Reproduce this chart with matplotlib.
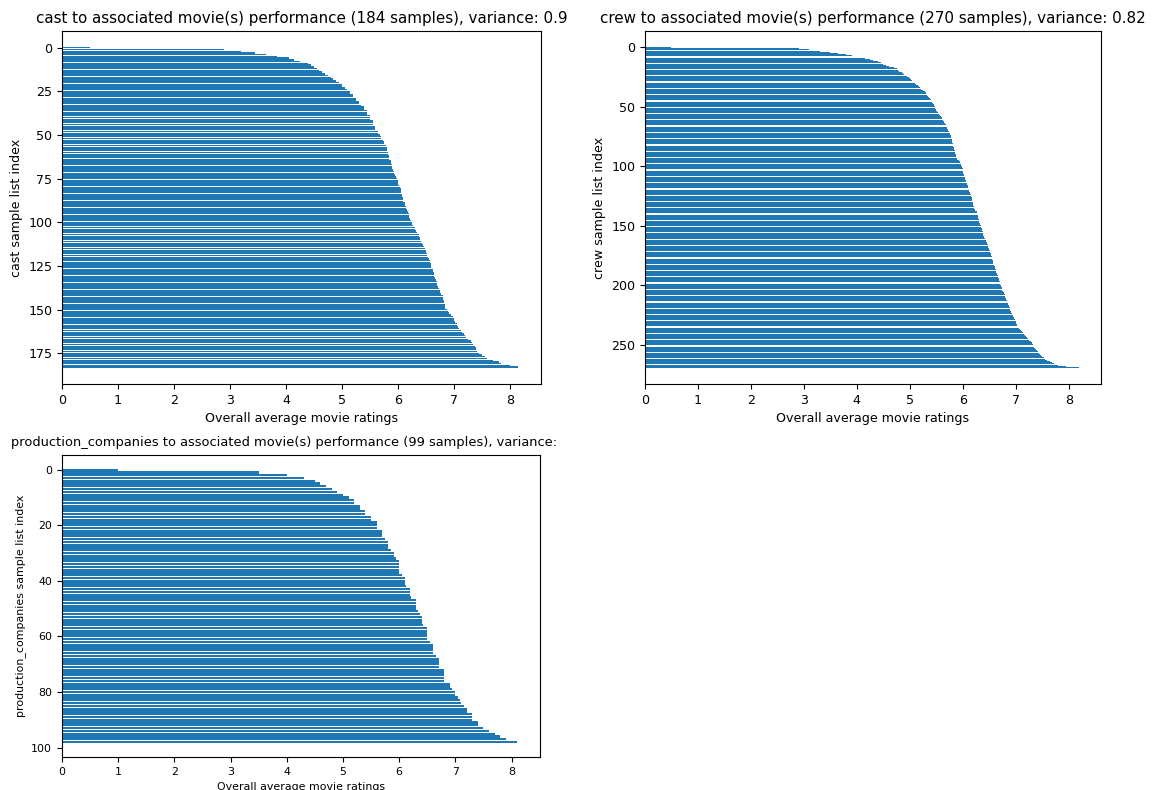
import matplotlib.pyplot as plt
import numpy as np
from matplotlib.transforms import Bbox

# average movie rating of every sample, sorted ascending
cast_ratings = [
    0.5, 2.9, 3.2, 3.45, 3.65, 3.85, 4.05, 4.15, 4.25, 4.4,
    4.45, 4.5, 4.55, 4.6, 4.65, 4.7, 4.75, 4.8, 4.85, 4.9,
    4.95, 5.0, 5.0, 5.05, 5.1, 5.15, 5.15, 5.2, 5.2, 5.25,
    5.25, 5.3, 5.3, 5.35, 5.4, 5.4, 5.45, 5.45, 5.45, 5.5,
    5.5, 5.5, 5.55, 5.55, 5.55, 5.6, 5.6, 5.6, 5.65, 5.65,
    5.68, 5.7, 5.7, 5.73, 5.75, 5.75, 5.78, 5.8, 5.8, 5.8,
    5.82, 5.82, 5.84, 5.84, 5.85, 5.87, 5.88, 5.9, 5.9, 5.9,
    5.92, 5.93, 5.94, 5.95, 5.96, 5.98, 6.0, 6.0, 6.0, 6.02,
    6.03, 6.05, 6.05, 6.06, 6.08, 6.08, 6.1, 6.1, 6.1, 6.12,
    6.13, 6.15, 6.15, 6.16, 6.18, 6.2, 6.2, 6.2, 6.22, 6.24,
    6.25, 6.26, 6.28, 6.3, 6.3, 6.32, 6.35, 6.37, 6.38, 6.4,
    6.4, 6.42, 6.44, 6.45, 6.46, 6.48, 6.5, 6.5, 6.52, 6.53,
    6.54, 6.55, 6.57, 6.58, 6.6, 6.6, 6.6, 6.62, 6.63, 6.64,
    6.64, 6.65, 6.67, 6.68, 6.7, 6.7, 6.7, 6.72, 6.74, 6.75,
    6.76, 6.78, 6.8, 6.8, 6.8, 6.82, 6.83, 6.84, 6.85, 6.85,
    6.88, 6.9, 6.92, 6.95, 6.98, 7.0, 7.0, 7.02, 7.05, 7.05,
    7.08, 7.1, 7.12, 7.15, 7.18, 7.2, 7.22, 7.25, 7.3, 7.32,
    7.35, 7.38, 7.4, 7.4, 7.42, 7.45, 7.5, 7.55, 7.6, 7.7,
    7.8, 7.85, 8.0, 8.15,
]

crew_ratings = [
    0.5, 2.9, 3.1, 3.3, 3.5, 3.65, 3.8, 3.9, 4.05, 4.15,
    4.25, 4.3, 4.4, 4.45, 4.5, 4.55, 4.6, 4.7, 4.75, 4.78,
    4.8, 4.85, 4.88, 4.9, 4.95, 4.98, 5.0, 5.02, 5.05, 5.08,
    5.1, 5.12, 5.15, 5.18, 5.2, 5.22, 5.25, 5.28, 5.3, 5.3,
    5.32, 5.35, 5.36, 5.38, 5.4, 5.4, 5.42, 5.44, 5.45, 5.46,
    5.47, 5.48, 5.5, 5.5, 5.52, 5.54, 5.55, 5.57, 5.58, 5.6,
    5.6, 5.62, 5.64, 5.65, 5.67, 5.68, 5.7, 5.7, 5.7, 5.72,
    5.73, 5.74, 5.75, 5.76, 5.77, 5.78, 5.78, 5.79, 5.8, 5.8,
    5.8, 5.81, 5.82, 5.82, 5.83, 5.83, 5.84, 5.85, 5.86, 5.86,
    5.87, 5.88, 5.88, 5.89, 5.9, 5.92, 5.94, 5.95, 5.96, 5.97,
    5.98, 5.99, 6.0, 6.0, 6.0, 6.0, 6.01, 6.02, 6.03, 6.04,
    6.05, 6.05, 6.06, 6.07, 6.08, 6.08, 6.09, 6.1, 6.1, 6.1,
    6.11, 6.12, 6.13, 6.14, 6.15, 6.16, 6.17, 6.18, 6.18, 6.18,
    6.19, 6.19, 6.2, 6.2, 6.21, 6.22, 6.23, 6.24, 6.26, 6.27,
    6.27, 6.28, 6.28, 6.29, 6.29, 6.3, 6.3, 6.31, 6.32, 6.33,
    6.34, 6.35, 6.36, 6.37, 6.37, 6.38, 6.38, 6.38, 6.39, 6.4,
    6.41, 6.42, 6.43, 6.44, 6.45, 6.46, 6.47, 6.48, 6.48, 6.5,
    6.5, 6.51, 6.52, 6.53, 6.54, 6.54, 6.55, 6.55, 6.56, 6.57,
    6.57, 6.58, 6.58, 6.59, 6.6, 6.6, 6.61, 6.62, 6.63, 6.63,
    6.64, 6.65, 6.66, 6.67, 6.68, 6.68, 6.69, 6.7, 6.7, 6.71,
    6.72, 6.73, 6.74, 6.75, 6.75, 6.76, 6.77, 6.78, 6.79, 6.8,
    6.8, 6.81, 6.82, 6.83, 6.84, 6.85, 6.86, 6.87, 6.88, 6.89,
    6.9, 6.9, 6.91, 6.92, 6.93, 6.94, 6.95, 6.96, 6.97, 6.98,
    7.0, 7.0, 7.01, 7.02, 7.03, 7.05, 7.06, 7.08, 7.1, 7.12,
    7.14, 7.16, 7.18, 7.2, 7.22, 7.24, 7.26, 7.28, 7.3, 7.3,
    7.32, 7.33, 7.35, 7.37, 7.38, 7.4, 7.42, 7.44, 7.46, 7.48,
    7.5, 7.53, 7.56, 7.6, 7.64, 7.68, 7.72, 7.8, 7.95, 8.2,
]

prod_ratings = [
    1.0, 3.5, 4.0, 4.3, 4.5, 4.6, 4.7, 4.8, 4.9, 5.0,
    5.1, 5.2, 5.2, 5.3, 5.3, 5.4, 5.4, 5.5, 5.5, 5.6,
    5.6, 5.6, 5.7, 5.7, 5.7, 5.75, 5.8, 5.8, 5.8, 5.85,
    5.9, 5.9, 5.95, 6.0, 6.0, 6.0, 6.0, 6.0, 6.05, 6.1,
    6.1, 6.1, 6.13, 6.2, 6.2, 6.2, 6.21, 6.3, 6.3, 6.3,
    6.3, 6.33, 6.37, 6.4, 6.4, 6.4, 6.42, 6.5, 6.5, 6.5,
    6.5, 6.5, 6.55, 6.6, 6.6, 6.6, 6.6, 6.65, 6.7, 6.7,
    6.7, 6.7, 6.8, 6.8, 6.8, 6.8, 6.8, 6.9, 6.9, 6.94,
    7.0, 7.0, 7.05, 7.08, 7.1, 7.16, 7.2, 7.2, 7.3, 7.3,
    7.3, 7.4, 7.4, 7.5, 7.6, 7.7, 7.8, 7.9, 8.1,
]

names = ["cast", "crew", "production_companies"]
variances = ["0.9", "0.82", "0.85"]

fig = plt.figure(figsize=(11.52, 7.9), dpi=100)
ax1 = fig.add_axes([0.0538, 0.514, 0.4158, 0.4468])
ax2 = fig.add_axes([0.5599, 0.514, 0.3958, 0.4468])
ax3 = fig.add_axes([0.0538, 0.042, 0.4149, 0.3823])

big = dict(title=10.9, label=9.1)
small = dict(title=9.4, label=7.9)

for ax, name, var, vals, fs in zip([ax1, ax2, ax3], names, variances,
                                   [cast_ratings, crew_ratings, prod_ratings],
                                   [big, big, small]):
    y = np.arange(len(vals))
    ax.barh(y, vals)
    ax.invert_yaxis()
    ax.set_title(f"{name} to associated movie(s) performance ({len(vals)} samples), variance: {var}",
                 fontsize=fs["title"])
    ax.set_xlabel("Overall average movie ratings", fontsize=fs["label"])
    ax.set_ylabel(f"{name} sample list index", fontsize=fs["label"])
    ax.tick_params(labelsize=fs["label"])

# bottom title was cut off in the source image
t3 = ax3.title
t3.set_clip_box(Bbox.from_extents(0, 0, 561, 790))
t3.set_clip_on(True)

fig.savefig("out.png", dpi=100)
